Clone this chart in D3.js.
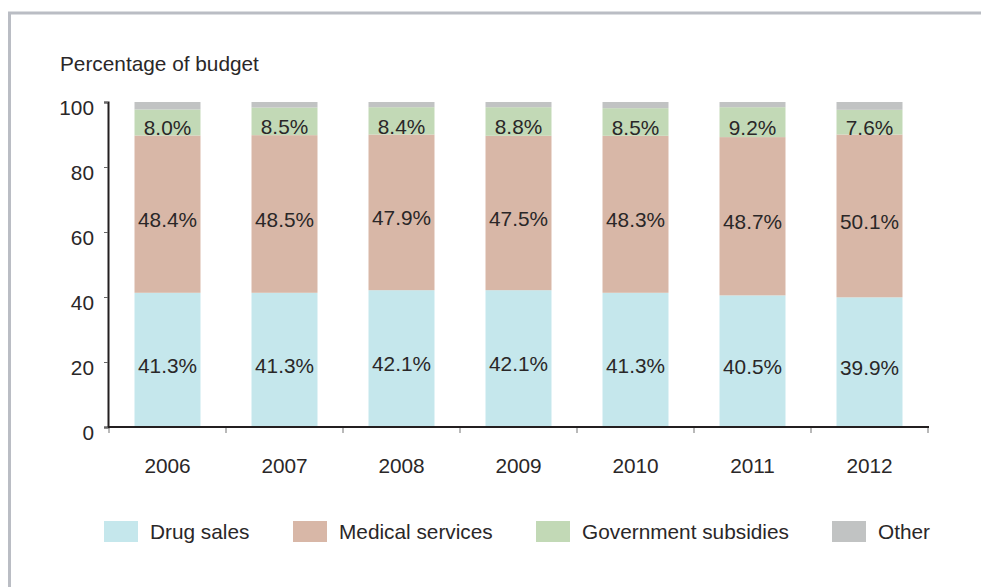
<!DOCTYPE html>
<html>
<head>
<meta charset="utf-8">
<script src="https://cdn.jsdelivr.net/npm/d3@7/dist/d3.min.js"></script>
<style>
  html, body { margin: 0; padding: 0; background: #ffffff; }
  svg { display: block; }
  text { font-family: "Liberation Sans", Arial, Helvetica, sans-serif; fill: #2a2728; }
</style>
</head>
<body>
<svg id="chart" width="981" height="587"></svg>
<script>
// Budget shares by year (percent)
const years = ["2006", "2007", "2008", "2009", "2010", "2011", "2012"];
const drugSales = [41.3, 41.3, 42.1, 42.1, 41.3, 40.5, 39.9];
const medicalServices = [48.4, 48.5, 47.9, 47.5, 48.3, 48.7, 50.1];
const governmentSubsidies = [8.0, 8.5, 8.4, 8.8, 8.5, 9.2, 7.6];
const other = [2.3, 1.7, 1.6, 1.6, 1.9, 1.6, 2.4];
const seriesNames = ["Drug sales", "Medical services", "Government subsidies", "Other"];
const yTicks = [0, 20, 40, 60, 80, 100];

const colors = ["#c5e7ec", "#d8b7a7", "#c2d9b6", "#c1c3c3"];
const showLabel = [true, true, true, false];
const fontSize = 20.8;
const textColor = "#2a2728";

const svg = d3.select("#chart");

// Panel border (left and top edges)
svg.append("path")
  .attr("d", "M9.5,587 L9.5,13 L981,13")
  .attr("fill", "none")
  .attr("stroke", "#babdc4")
  .attr("stroke-width", 3);

const x = d3.scaleBand()
  .domain(years)
  .range([109, 928])
  .paddingInner(0.436)
  .paddingOuter(0.218);

const y = d3.scaleLinear().domain([0, 100]).range([427, 102]);

// Stack the series
const rows = years.map((yr, i) => ({
  year: yr,
  "Drug sales": drugSales[i],
  "Medical services": medicalServices[i],
  "Government subsidies": governmentSubsidies[i],
  "Other": other[i]
}));
const stacked = d3.stack().keys(seriesNames)(rows);

const layers = svg.append("g").selectAll("g")
  .data(stacked)
  .join("g")
  .attr("fill", (d, i) => colors[i]);

layers.selectAll("rect")
  .data(d => d)
  .join("rect")
  .attr("x", d => x(d.data.year))
  .attr("width", x.bandwidth())
  .attr("y", d => y(d[1]))
  .attr("height", d => y(d[0]) - y(d[1]));

// Value labels inside segments
stacked.forEach((layer, si) => {
  if (!showLabel[si]) return;
  svg.append("g").selectAll("text")
    .data(layer)
    .join("text")
    .attr("x", d => x(d.data.year) + x.bandwidth() / 2)
    .attr("y", d => y((d[0] + d[1]) / 2))
    .attr("dy", "0.62em")
    .attr("text-anchor", "middle")
    .attr("font-size", fontSize)
    .text(d => (d[1] - d[0]).toFixed(1) + "%");
});

// Y axis
const yAxis = svg.append("g")
  .attr("transform", "translate(108,0)")
  .call(d3.axisLeft(y).tickValues(yTicks).tickSize(4).tickSizeOuter(4).tickPadding(10));
yAxis.select(".domain").attr("stroke", "#231f20").attr("stroke-width", 2);
yAxis.selectAll(".tick line").attr("stroke", "#666").attr("stroke-width", 1);
yAxis.selectAll(".tick text")
  .attr("font-size", fontSize)
  .attr("font-family", "Liberation Sans, Arial, sans-serif")
  .attr("fill", textColor)
  .attr("dy", "0.62em");

// X axis: labels at band centres, ticks at band boundaries
const xAxis = svg.append("g")
  .attr("transform", "translate(0,427)")
  .call(d3.axisBottom(x).tickSize(0).tickPadding(31));
xAxis.select(".domain").remove();
xAxis.selectAll(".tick text")
  .attr("font-size", fontSize)
  .attr("font-family", "Liberation Sans, Arial, sans-serif")
  .attr("fill", textColor);

const bounds = years.map(yr => x(yr) - x.step() * x.paddingInner() / 2).concat([x.range()[1]]);
svg.append("g").selectAll("line")
  .data(bounds)
  .join("line")
  .attr("x1", d => d).attr("x2", d => d)
  .attr("y1", 427).attr("y2", 433)
  .attr("stroke", "#8a8a8a")
  .attr("stroke-width", 1.2);

svg.append("line")
  .attr("x1", x.range()[0] - 1).attr("x2", x.range()[1] + 1)
  .attr("y1", 427).attr("y2", 427)
  .attr("stroke", "#231f20")
  .attr("stroke-width", 2);

// Axis title
svg.append("text")
  .attr("x", 60)
  .attr("y", 71)
  .attr("font-size", fontSize)
  .text("Percentage of budget");

// Legend
const legendX = [104, 293, 536, 832];
const legend = svg.append("g").selectAll("g")
  .data(seriesNames)
  .join("g")
  .attr("transform", (d, i) => `translate(${legendX[i]},521)`);
legend.append("rect")
  .attr("width", 34).attr("height", 21)
  .attr("fill", (d, i) => colors[i]);
legend.append("text")
  .attr("x", 46)
  .attr("y", 18)
  .attr("font-size", fontSize)
  .text(d => d);
</script>
</body>
</html>
